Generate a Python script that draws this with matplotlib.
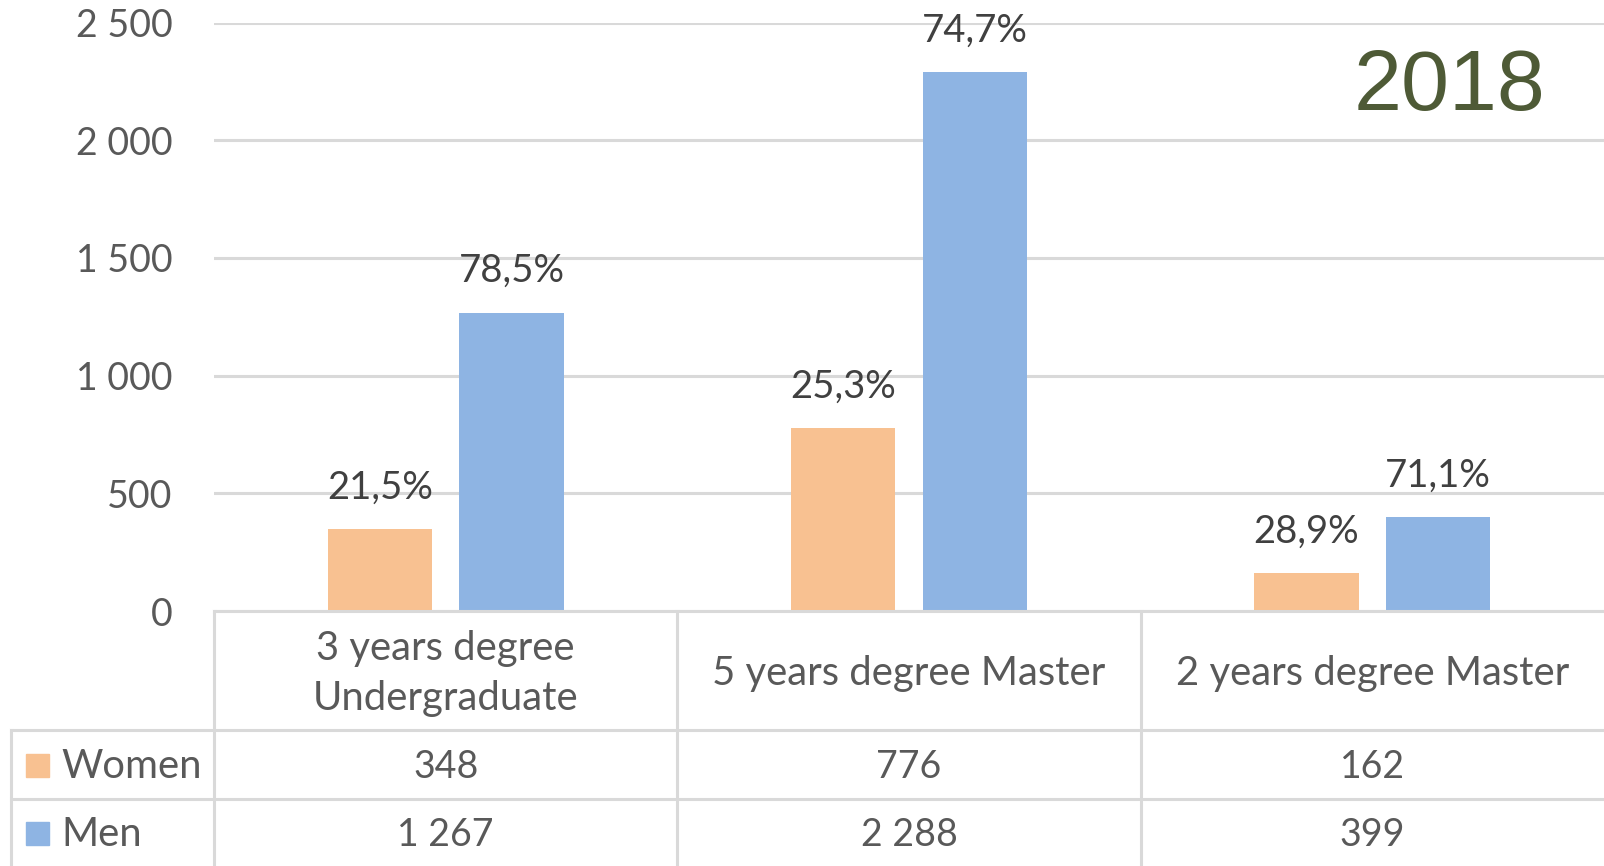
import matplotlib
matplotlib.use("Agg")
import matplotlib.pyplot as plt
import numpy as np

categories = ["3 years degree\nUndergraduate", "5 years degree Master", "2 years degree Master"]
series_names = ["Women", "Men"]
women = [348, 776, 162]
men = [1267, 2288, 399]
yticks = [0, 500, 1000, 1500, 2000, 2500]
year_label = "2018"

col_women = "#F8C191"
col_men = "#8EB4E3"
txt_col = "#595959"
grid_col = "#D9D9D9"

plt.rcParams["font.family"] = ["Lato", "DejaVu Sans"]
fs = 27
fs_words = 28.8


def fmt_int(v):
    return "{:,}".format(v).replace(",", " ")


def fmt_pct(p):
    return "{:.1f}%".format(p).replace(".", ",")


tot = np.array(women) + np.array(men)
pct_w = [fmt_pct(100.0 * w / t) for w, t in zip(women, tot)]
pct_m = [fmt_pct(100.0 * m / t) for m, t in zip(men, tot)]

W, H = 1604, 866
fig = plt.figure(figsize=(W / 100, H / 100), dpi=100)

# main bar axes (pixel layout)
x0, x1, y0, y1 = 214, 1604, 611, 22.5
ax = fig.add_axes([x0 / W, 1 - y0 / H, (x1 - x0) / W, (y0 - y1) / H])
x = np.arange(len(categories))
bw = 0.225
off = 0.142
b1 = ax.bar(x - off, women, bw, color=col_women, zorder=3)
b2 = ax.bar(x + off, men, bw, color=col_men, zorder=3)
ax.bar_label(b1, pct_w, padding=17, fontsize=fs + 0.5, color="#404040")
ax.bar_label(b2, pct_m, padding=17, fontsize=fs + 0.5, color="#404040")
ax.set_xlim(-0.5, len(categories) - 0.5)
ax.set_ylim(0, 2500)
ax.set_yticks(yticks)
ax.set_yticklabels([fmt_int(v) for v in yticks])
ax.tick_params(axis="y", length=0, pad=30, labelsize=fs, labelcolor=txt_col)
ax.set_xticks([])
ax.grid(axis="y", color=grid_col, linewidth=2.2, zorder=0)
for s in ax.spines.values():
    s.set_visible(False)
ax.text(0.958, 0.888, year_label, transform=ax.transAxes, ha="right", va="center",
        fontsize=62, color="#4E5A36", fontfamily=["Liberation Sans", "DejaVu Sans"])

# data table drawn on an overlay in pixel coords
ov = fig.add_axes([0, 0, 1, 1])
ov.set_xlim(0, W)
ov.set_ylim(H, 0)
ov.axis("off")
lw = 2.2
col_x = [x0 + (x1 - x0) * i / len(categories) for i in range(len(categories) + 1)]
row_y = [611, 730, 799, 866]
ov.plot([x0, W], [row_y[0], row_y[0]], color=grid_col, lw=lw)
for yy in row_y[1:3]:
    ov.plot([11, W], [yy, yy], color=grid_col, lw=lw)
for xx in col_x[:-1]:
    ov.plot([xx, xx], [row_y[0], H], color=grid_col, lw=lw)
ov.plot([11, 11], [row_y[1], H], color=grid_col, lw=lw)

for i, c in enumerate(categories):
    cx = (col_x[i] + col_x[i + 1]) / 2
    ov.text(cx, (row_y[0] + row_y[1]) / 2 + 3, c, ha="center", va="center",
            fontsize=fs_words, color=txt_col, linespacing=1.45)
    ov.text(cx, (row_y[1] + row_y[2]) / 2 + 3, fmt_int(women[i]), ha="center", va="center",
            fontsize=fs, color=txt_col)
    ov.text(cx, (row_y[2] + row_y[3]) / 2 + 3, fmt_int(men[i]), ha="center", va="center",
            fontsize=fs, color=txt_col)

for name, col, (ya, yb) in zip(series_names, [col_women, col_men],
                                [(row_y[1], row_y[2]), (row_y[2], row_y[3])]):
    cy = (ya + yb) / 2
    ov.add_patch(plt.Rectangle((26, cy - 11), 23, 23, color=col))
    ov.text(61, cy + 2, name, ha="left", va="center", fontsize=fs_words, color=txt_col)

fig.savefig("out.png", dpi=100)
